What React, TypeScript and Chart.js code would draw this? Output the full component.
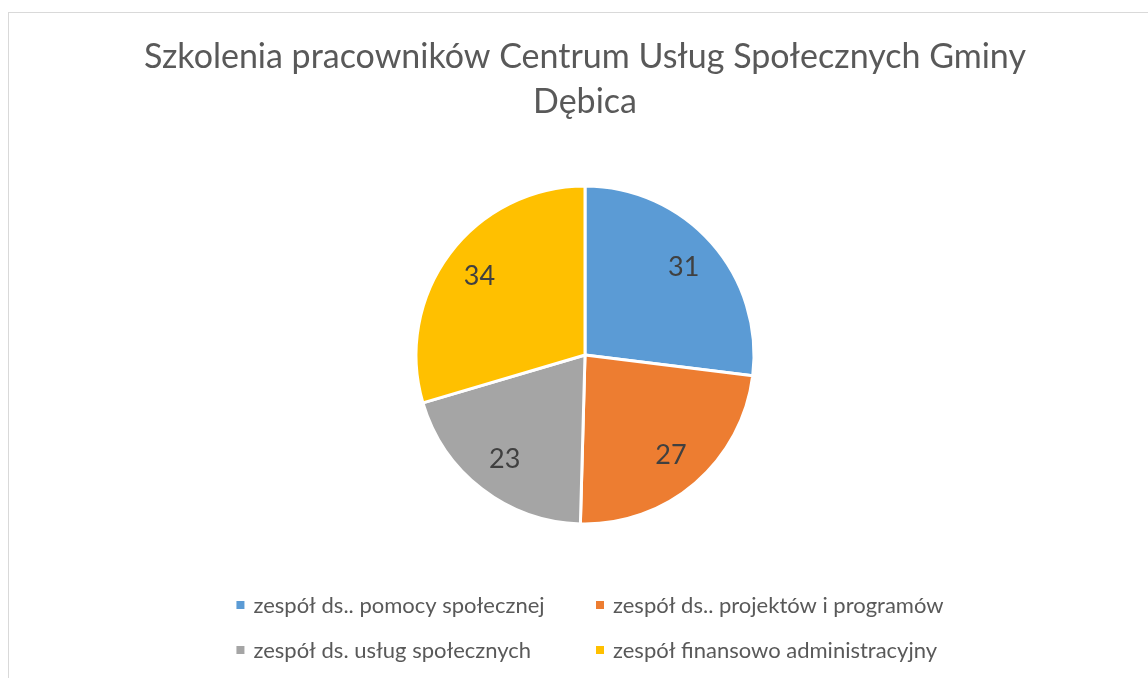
import React, { useEffect, useRef } from "react";
import { Chart, registerables } from "chart.js";

Chart.register(...registerables);

const titleLines = ["Szkolenia pracowników Centrum Usług Społecznych Gminy", "Dębica"];
const categories = [
  "zespół ds.. pomocy społecznej",
  "zespół ds.. projektów i programów",
  "zespół ds. usług społecznych",
  "zespół finansowo administracyjny",
];
const values = [31, 27, 23, 34];
const colors = ["#5B9BD5", "#ED7D31", "#A5A5A5", "#FFC000"];

const FONT = "Lato, 'Open Sans', sans-serif";

const frame = {
  id: "frame",
  beforeDraw(chart: any) {
    const ctx = chart.ctx;
    ctx.save();
    ctx.fillStyle = "#ffffff";
    ctx.fillRect(0, 0, chart.width, chart.height);
    ctx.strokeStyle = "#d9d9d9";
    ctx.lineWidth = 1;
    ctx.strokeRect(8.5, 12.5, chart.width + 20, chart.height + 20);
    ctx.restore();
  },
};

const sliceLabels = {
  id: "sliceLabels",
  afterDatasetsDraw(chart: any) {
    const ctx = chart.ctx;
    const meta = chart.getDatasetMeta(0);
    const data = chart.data.datasets[0].data;
    ctx.save();
    ctx.font = `27px ${FONT}`;
    ctx.fillStyle = "#404040";
    ctx.textAlign = "center";
    ctx.textBaseline = "middle";
    meta.data.forEach((arc: any, i: number) => {
      const p = arc.getProps(["x", "y", "startAngle", "endAngle", "outerRadius"], true);
      const mid = (p.startAngle + p.endAngle) / 2;
      const r = p.outerRadius * 0.78;
      ctx.fillText(String(data[i]), p.x + Math.cos(mid) * r, p.y + Math.sin(mid) * r);
    });
    ctx.restore();
  },
};

const gridLegend = {
  id: "gridLegend",
  afterDraw(chart: any) {
    const ctx = chart.ctx;
    const labels = chart.data.labels as string[];
    const bg = chart.data.datasets[0].backgroundColor as string[];
    const box = 8;
    const boxGap = 9;
    const colGap = 12;
    const rowY = [605, 650];
    ctx.save();
    ctx.font = `22px ${FONT}`;
    const widths = labels.map((l) => box + boxGap + ctx.measureText(l).width);
    const colW = Math.max(...widths);
    const total = colW * 2 + colGap;
    const cx = 590;
    const x0 = cx - total / 2;
    const colX = [x0, x0 + colW + colGap];
    ctx.textBaseline = "middle";
    ctx.textAlign = "left";
    labels.forEach((l, i) => {
      const col = i % 2;
      const row = Math.floor(i / 2);
      const x = colX[col];
      const y = rowY[row];
      ctx.fillStyle = bg[i];
      ctx.fillRect(x, y - box / 2, box, box);
      ctx.fillStyle = "#595959";
      ctx.fillText(l, x + box + boxGap, y + 1);
    });
    ctx.restore();
  },
};

export default function App() {
  const ref = useRef<HTMLCanvasElement>(null);
  useEffect(() => {
    if (!ref.current) return;
    const chart = new Chart(ref.current, {
      type: "pie",
      data: {
        labels: categories,
        datasets: [
          {
            data: values,
            backgroundColor: colors,
            borderColor: "#ffffff",
            borderWidth: 3,
            radius: 169,
          } as any,
        ],
      },
      options: {
        responsive: false,
        animation: false,
        layout: { padding: { left: 22, right: 0, top: 0, bottom: 100 } },
        plugins: {
          legend: { display: false },
          tooltip: { enabled: false },
          title: {
            display: true,
            text: titleLines,
            color: "#595959",
            font: { family: FONT, size: 34, weight: "normal", lineHeight: 45 / 34 },
            padding: { top: 35, bottom: 7 },
          },
        },
      },
      plugins: [frame, sliceLabels, gridLegend],
    });
    return () => chart.destroy();
  }, []);
  return (
    <div style={{ position: "fixed", left: 0, top: 0, width: 1148, height: 678, background: "#fff" }}>
      <canvas ref={ref} width={1148} height={678} style={{ display: "block" }} />
    </div>
  );
}
